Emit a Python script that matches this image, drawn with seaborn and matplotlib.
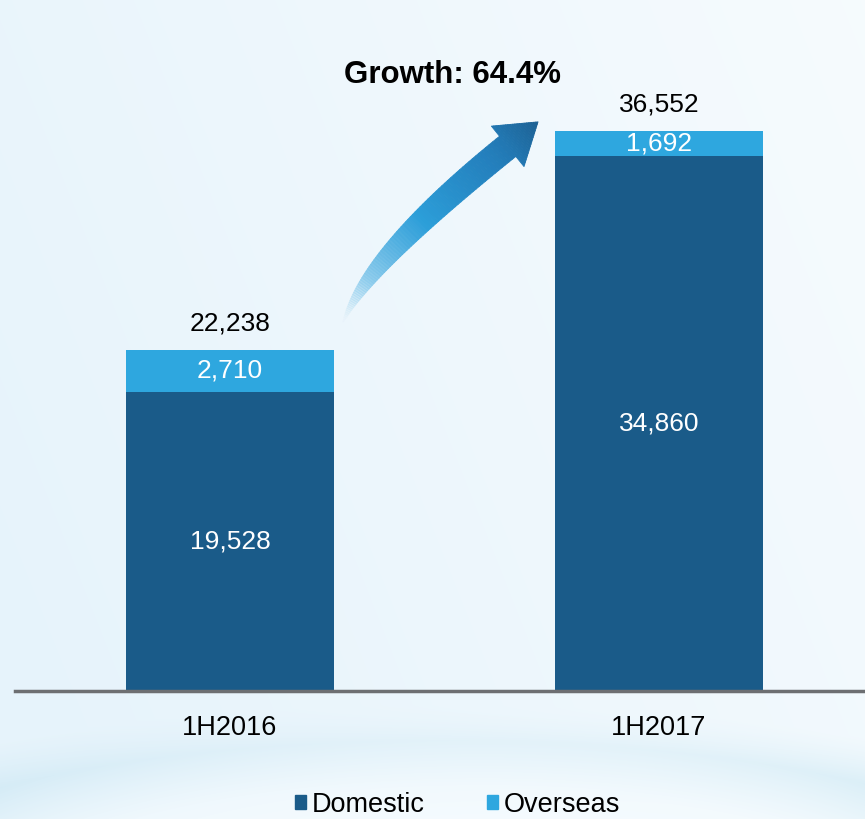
import numpy as np
import pandas as pd
import matplotlib
matplotlib.use('Agg')
import matplotlib.pyplot as plt
import seaborn as sns
from matplotlib.patches import Patch
from matplotlib.collections import PolyCollection
from matplotlib.colors import LinearSegmentedColormap

# data
periods = ['1H2016', '1H2017']
domestic = [19528, 34860]
overseas = [2710, 1692]
totals = [22238, 36552]
growth_text = 'Growth: 64.4%'

DARK = '#1A5B89'
LIGHT = '#2EA7DF'

sns.set_theme(style='white')
plt.rcParams['font.family'] = ['Liberation Sans', 'DejaVu Sans']

W, H = 865, 819
fig = plt.figure(figsize=(W / 100, H / 100), dpi=100)

# light blue backdrop
bg = fig.add_axes([0, 0, 1, 1], zorder=0)
bg.axis('off')
yy, xx = np.mgrid[0:H, 0:W]
fx = xx / W
fy = yy / H
top = np.array([0.965, 0.985, 0.996])
left = np.array([0.905, 0.955, 0.985])
mix = np.clip((1 - fx) * 0.8 + fy * 0.3, 0, 1)[..., None]
img = top * (1 - mix) + left * mix
# bottom hill
hill = ((xx - 440) / 620.0) ** 2 + ((yy - 900) / 160.0) ** 2
band = np.clip((yy - 700) / 120.0, 0, 1) * np.clip(1 - np.abs(hill - 1) * 2.0, 0, 1)
img = img * (1 - band[..., None] * 0.75) + np.array([0.78, 0.90, 0.95]) * band[..., None] * 0.75
inner = np.clip(1 - hill, 0, 1)[..., None]
img = img * (1 - inner) + np.array([0.97, 0.99, 1.0]) * inner
bg.imshow(np.clip(img, 0, 1), extent=[0, 1, 0, 1], aspect='auto', origin='upper')
bg.set_xlim(0, 1)
bg.set_ylim(0, 1)

ax = fig.add_axes([15 / W, 128 / H, 850 / W, 690 / H], zorder=1)
ax.patch.set_alpha(0)

df = pd.DataFrame({'period': periods, 'domestic': domestic, 'total': totals})
sns.barplot(data=df, x='period', y='total', color=LIGHT, saturation=1,
            width=0.485, linewidth=0, ax=ax)
sns.barplot(data=df, x='period', y='domestic', color=DARK, saturation=1,
            width=0.485, linewidth=0, ax=ax)
if ax.get_legend() is not None:
    ax.get_legend().remove()

ax.set_xlim(-0.501, 1.48)
ax.set_ylim(0, 45000)
ax.set_xlabel('')
ax.set_ylabel('')
ax.set_yticks([])
for s in ['left', 'top', 'right']:
    ax.spines[s].set_visible(False)
ax.spines['bottom'].set_color('#6d6f72')
ax.spines['bottom'].set_linewidth(2.5)
ax.tick_params(axis='x', length=0, pad=17, labelsize=19.5, labelcolor='black')

for i in range(len(periods)):
    ax.text(i, domestic[i] / 2, f'{domestic[i]:,}', ha='center', va='center',
            color='white', fontsize=19)
    ax.text(i, domestic[i] + overseas[i] / 2, f'{overseas[i]:,}', ha='center',
            va='center', color='white', fontsize=19)
    ax.annotate(f'{totals[i]:,}', (i, totals[i]), xytext=(0, 19),
                textcoords='offset points', ha='center', va='center',
                color='black', fontsize=19)

fig.text(453 / W, 1 - 75 / H, growth_text, ha='center', va='center',
         fontsize=22.5, fontweight='bold', color='black')

# curved gradient arrow between the bars (built in pixels, drawn in data coords)
fig.canvas.draw()
to_px = ax.transData.transform
to_data = ax.transData.inverted().transform
T = to_px((0.263, totals[0] + 1770))
Hd = to_px((1 - 0.282, totals[1] + 565))
d = np.array([31.0, 25.0])
d /= np.linalg.norm(d)
E = Hd - 39 * d
C = T + np.array([25.0, 64.0])

cmap = LinearSegmentedColormap.from_list('arr', [
    (0.0, (0.90, 0.96, 0.99, 0.0)),
    (0.25, (0.55, 0.80, 0.93, 0.9)),
    (0.55, (0.17, 0.62, 0.85, 1.0)),
    (0.8, (0.14, 0.50, 0.74, 1.0)),
    (1.0, (0.11, 0.38, 0.58, 1.0)),
])

n = 80
ts = np.linspace(0, 1, n)
pts = ((1 - ts) ** 2)[:, None] * T + (2 * ts * (1 - ts))[:, None] * C + (ts ** 2)[:, None] * E
tang = (2 * (1 - ts))[:, None] * (C - T) + (2 * ts)[:, None] * (E - C)
tang /= np.linalg.norm(tang, axis=1)[:, None]
nrm = np.stack([-tang[:, 1], tang[:, 0]], axis=1)
wid = 26 * (1 - (1 - ts) ** 2)
lefts = pts + nrm * wid[:, None] / 2
rights = pts - nrm * wid[:, None] / 2
polys, cols = [], []
for k in range(n - 1):
    quad = np.array([lefts[k], lefts[k + 1], rights[k + 1], rights[k]])
    polys.append(to_data(quad))
    cols.append(cmap(0.85 * (ts[k] + ts[k + 1]) / 2))

# head
nh = np.array([-d[1], d[0]])
m = 20
for k in range(m):
    a0, a1 = k / m, (k + 1) / m
    c0 = E + (Hd - E) * a0
    c1 = E + (Hd - E) * a1
    w0 = 26 * (1 - a0)
    w1 = 26 * (1 - a1)
    quad = np.array([c0 + nh * w0, c1 + nh * w1, c1 - nh * w1, c0 - nh * w0])
    polys.append(to_data(quad))
    cols.append(cmap(0.85 + 0.15 * (a0 + a1) / 2))

pc = PolyCollection(polys, facecolors=cols, edgecolors=cols, linewidths=0.6,
                    zorder=3, clip_on=False)
ax.add_collection(pc, autolim=False)

handles = [Patch(color=DARK, label='Domestic'), Patch(color=LIGHT, label='Overseas')]
fig.legend(handles=handles, loc='center', bbox_to_anchor=(458 / W, 1 - 805 / H),
           ncol=2, frameon=False, fontsize=19.5, labelcolor='black',
           handlelength=0.4, handleheight=0.4, handletextpad=0.22,
           columnspacing=2.3)

fig.savefig('out.png', dpi=100)
